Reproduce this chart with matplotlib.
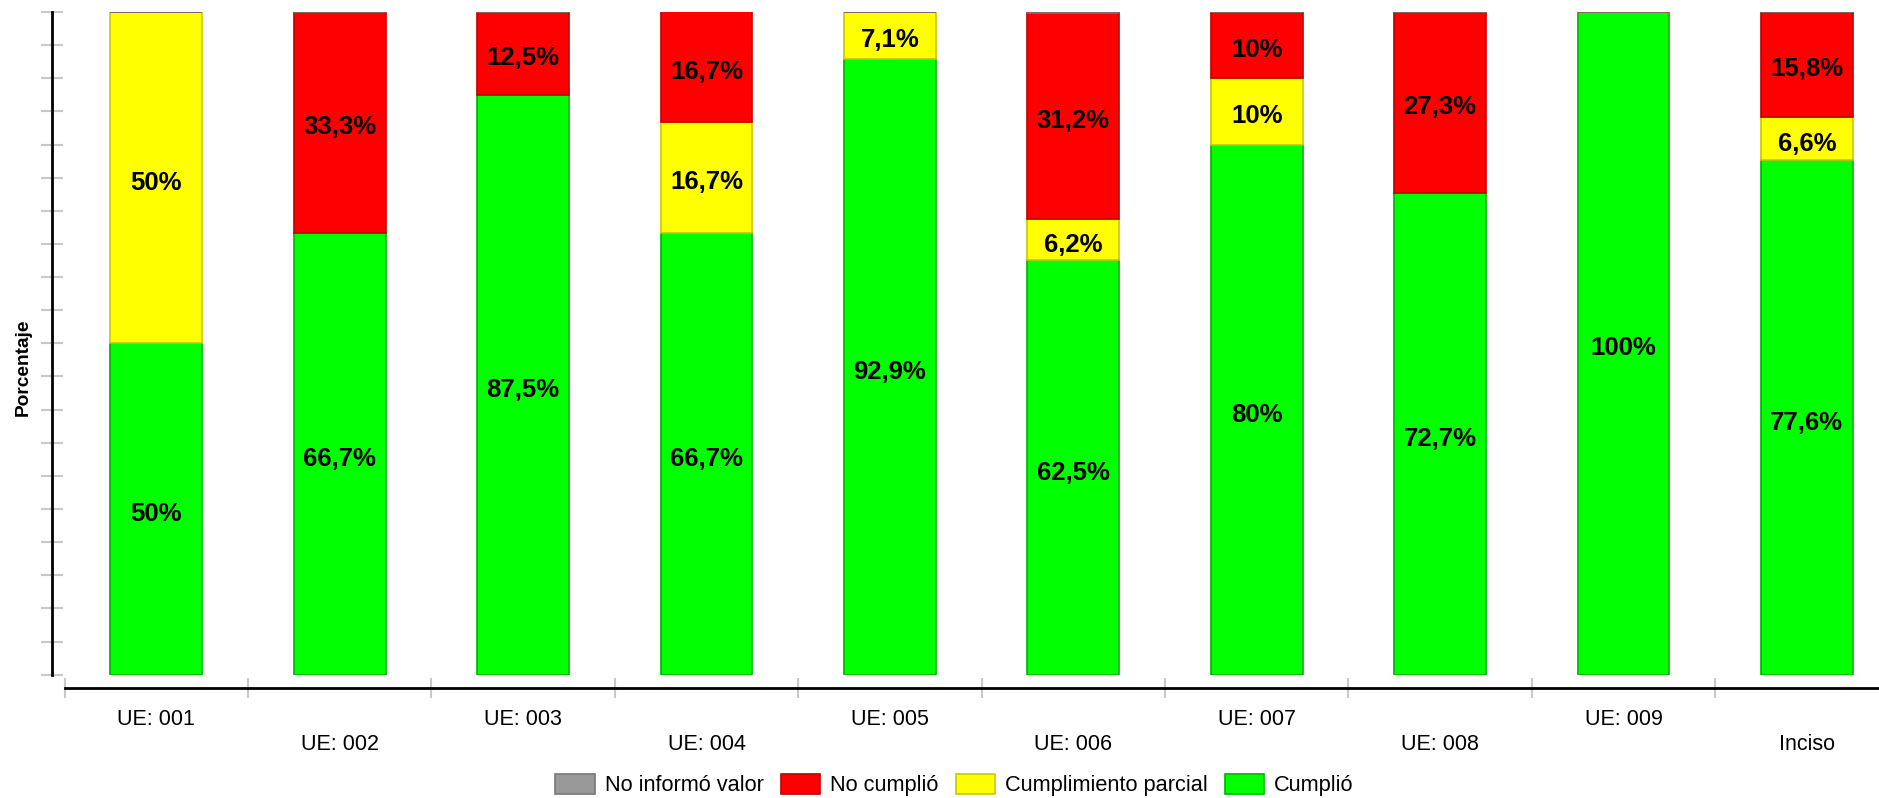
"""
Stacked bar chart: cumplimiento por UE (porcentaje).
"""

import matplotlib
matplotlib.use("Agg")
import matplotlib.pyplot as plt
import matplotlib.patches as mpatches
import numpy as np

plt.rcParams["font.family"] = ["Liberation Sans", "DejaVu Sans"]

CATEGORIES = ["UE: 001", "UE: 002", "UE: 003", "UE: 004", "UE: 005",
              "UE: 006", "UE: 007", "UE: 008", "UE: 009", "Inciso"]

CUMPLIO = [50, 66.7, 87.5, 66.7, 92.9, 62.5, 80, 72.7, 100, 77.6]
PARCIAL = [50, 0, 0, 16.7, 7.1, 6.2, 10, 0, 0, 6.6]
NO_CUMPLIO = [0, 33.3, 12.5, 16.7, 0, 31.2, 10, 27.3, 0, 15.8]
NO_INFORMO = [0, 0, 0, 0, 0, 0, 0, 0, 0, 0]

Y_TICKS = list(range(0, 101, 5))

# (values, face, edge, legend label) bottom -> top
SERIES = [
    (CUMPLIO, "#00FF00", "#00B400", "Cumplió"),
    (PARCIAL, "#FFFF00", "#C8C800", "Cumplimiento parcial"),
    (NO_CUMPLIO, "#FF0000", "#C00000", "No cumplió"),
    (NO_INFORMO, "#999999", "#777777", "No informó valor"),
]


def fmt(v):
    s = f"{v:.1f}".replace(".", ",")
    if s.endswith(",0"):
        s = s[:-2]
    return s + "%"


def main():
    fig = plt.figure(figsize=(18.79, 7.98), dpi=100)
    ax = fig.add_axes([0.0344, 0.1545, 0.976, 0.8305])

    x = np.arange(len(CATEGORIES))
    bottom = np.zeros(len(CATEGORIES))
    for vals, face, edge, _ in SERIES:
        vals = np.array(vals, dtype=float)
        ax.bar(x, vals, 0.5, bottom=bottom, color=face, edgecolor=edge,
               linewidth=1.2, zorder=2)
        for xi, b, v in zip(x, bottom, vals):
            if v > 0:
                ax.annotate(fmt(v), xy=(xi, b + v / 2), xytext=(0, -5),
                            textcoords="offset pixels", ha="center", va="center",
                            fontsize=18.5, fontweight="bold", color="black", zorder=3)
        bottom += vals

    ax.set_xlim(-0.5, 9.5)
    ax.set_ylim(0, 100)

    for side in ["top", "right"]:
        ax.spines[side].set_visible(False)
    ax.spines["left"].set_position(("outward", 9.4))
    ax.spines["bottom"].set_position(("outward", 9.4))
    ax.spines["left"].set_linewidth(2)
    ax.spines["bottom"].set_linewidth(2)

    # y ticks: grey, no labels
    ax.set_yticks(Y_TICKS)
    ax.set_yticklabels([])
    ax.tick_params(axis="y", direction="inout", length=16, width=1.5, color="#C8C8C8")

    # x: grey boundary ticks as minor, labels on major
    ax.set_xticks(x)
    labels = [c if i % 2 == 0 else "\n" + c for i, c in enumerate(CATEGORIES)]
    ax.set_xticklabels(labels, fontsize=15.5, linespacing=1.3)
    ax.set_xticks(np.arange(-0.5, 10, 1), minor=True)
    ax.tick_params(axis="x", which="major", length=0, pad=15)
    ax.tick_params(axis="x", which="minor", direction="inout", length=14,
                   width=1.5, color="#C8C8C8")

    fig.text(23 / 1879, 0.54, "Porcentaje", rotation=90, ha="center", va="center",
             fontsize=13.8, fontweight="bold")

    handles = [mpatches.Patch(facecolor=face, edgecolor=edge, linewidth=1.2, label=lab)
               for _, face, edge, lab in SERIES[::-1]]
    fig.legend(handles=handles, loc="center", bbox_to_anchor=(0.508, 0.016),
               ncol=4, frameon=False, fontsize=15.7, handlelength=1.8,
               handleheight=1.0, handletextpad=0.45, columnspacing=0.8)

    fig.savefig("out.png", dpi=100)
    plt.close(fig)


if __name__ == "__main__":
    main()
